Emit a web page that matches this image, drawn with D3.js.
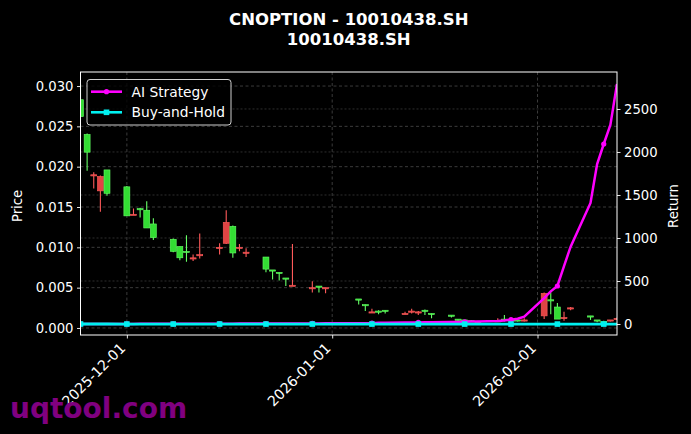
<!DOCTYPE html>
<html><head><meta charset="utf-8">
<script src="https://cdn.jsdelivr.net/npm/d3@7/dist/d3.min.js"></script>
<style>html,body{margin:0;padding:0;background:#000;}svg{display:block;}</style>
</head><body>
<script>
const dates = ["2025-11-24","2025-11-25","2025-11-26","2025-11-27","2025-11-28",
"2025-12-01","2025-12-02","2025-12-03","2025-12-04","2025-12-05",
"2025-12-08","2025-12-09","2025-12-10","2025-12-11","2025-12-12",
"2025-12-15","2025-12-16","2025-12-17","2025-12-18","2025-12-19",
"2025-12-22","2025-12-23","2025-12-24","2025-12-25","2025-12-26",
"2025-12-29","2025-12-30","2025-12-31","2026-01-05","2026-01-06",
"2026-01-07","2026-01-08","2026-01-09","2026-01-12","2026-01-13",
"2026-01-14","2026-01-15","2026-01-16","2026-01-19","2026-01-20",
"2026-01-21","2026-01-22","2026-01-23","2026-01-26","2026-01-27",
"2026-01-28","2026-01-29","2026-01-30","2026-02-02","2026-02-03",
"2026-02-04","2026-02-05","2026-02-06","2026-02-09","2026-02-10",
"2026-02-11","2026-02-12","2026-02-13"];
const open  = [0.0283,0.0240,0.0189,0.0170,0.0196, 0.0175,0.0140,0.0148,0.0146,0.0129,
 0.0110,0.0101,0.0095,0.0086,0.0090, 0.0099,0.0105,0.0126,0.0099,0.0093,
 0.0088,0.0072,0.0069,0.0062,0.0052, 0.0049,0.0052,0.0049,0.0036,0.0029,
 0.0019,0.0021,0.0022,0.0017,0.0020, 0.0019,0.0022,0.0018,0.0016,0.0011,
 0.0010,0.0009,0.0008,0.0008,0.0011, 0.0010,0.0010,0.0009,0.0015,0.0035,
 0.0026,0.0012,0.0024,0.0015,0.0010, 0.0008,0.0009,0.0011];
const high  = [0.0303,0.0241,0.0193,0.0189,0.0196, 0.0176,0.0148,0.0149,0.0157,0.0136,
 0.0111,0.0101,0.0115,0.0091,0.0117, 0.0105,0.0146,0.0127,0.0104,0.0099,
 0.0088,0.0072,0.0069,0.0062,0.0104, 0.0058,0.0052,0.0050,0.0036,0.0029,
 0.0024,0.0022,0.0022,0.0020,0.0024, 0.0021,0.0023,0.0018,0.0016,0.0011,
 0.0010,0.0010,0.0009,0.0012,0.0016, 0.0011,0.0011,0.0012,0.0044,0.0044,
 0.0031,0.0020,0.0026,0.0015,0.0010, 0.0009,0.0010,0.0013];
const low   = [0.0261,0.0195,0.0173,0.0144,0.0164, 0.0139,0.0140,0.0137,0.0124,0.0109,
 0.0094,0.0084,0.0082,0.0083,0.0086, 0.0091,0.0104,0.0087,0.0095,0.0088,
 0.0069,0.0060,0.0059,0.0052,0.0052, 0.0044,0.0044,0.0043,0.0029,0.0021,
 0.0019,0.0017,0.0018,0.0017,0.0018, 0.0016,0.0016,0.0012,0.0013,0.0009,
 0.0008,0.0008,0.0007,0.0008,0.0008, 0.0008,0.0008,0.0008,0.0011,0.0017,
 0.0011,0.0009,0.0022,0.0010,0.0007, 0.0006,0.0008,0.0010];
const close = [0.0262,0.0218,0.0190,0.0188,0.0167, 0.0139,0.0141,0.0147,0.0124,0.0112,
 0.0095,0.0087,0.0094,0.0087,0.0091, 0.0100,0.0131,0.0093,0.0100,0.0094,
 0.0073,0.0071,0.0068,0.0061,0.0053, 0.0050,0.0051,0.0050,0.0035,0.0028,
 0.0020,0.0020,0.0021,0.0018,0.0021, 0.0020,0.0021,0.0017,0.0015,0.0010,
 0.0009,0.0008,0.0008,0.0009,0.0010, 0.0009,0.0009,0.0010,0.0043,0.0034,
 0.0011,0.0013,0.0025,0.0014,0.0009, 0.0007,0.0010,0.0012];
const aiStrategy = [0,0,0,1,1, 1,1,2,2,2, 2,3,3,3,3, 4,4,4,5,5,
 5,6,6,6,7, 7,7,8,8,9, 10,13,14,16,17, 18,19,20,22,24,
 26,28,30,34,40, 50,62,85,300,380, 442,674,899,1407,1860, 2093,2314,2790];
const buyHold = [0,-0.17,-0.27,-0.28,-0.36, -0.47,-0.46,-0.44,-0.53,-0.57,
 -0.64,-0.67,-0.64,-0.67,-0.65, -0.62,-0.50,-0.65,-0.62,-0.64,
 -0.72,-0.73,-0.74,-0.77,-0.80, -0.81,-0.81,-0.81,-0.87,-0.89,
 -0.92,-0.92,-0.92,-0.93,-0.92, -0.92,-0.92,-0.94,-0.94,-0.96,
 -0.97,-0.97,-0.97,-0.97,-0.96, -0.97,-0.97,-0.96,-0.84,-0.87,
 -0.96,-0.95,-0.90,-0.95,-0.97, -0.97,-0.96,-0.95];
const priceTicks = [0.000,0.005,0.010,0.015,0.020,0.025,0.030];
const returnTicks = [0,500,1000,1500,2000,2500];
const dateTicks = ["2025-12-01","2026-01-01","2026-02-01"];
const titleLines = ["CNOPTION - 10010438.SH","10010438.SH"];
const seriesNames = ["AI Strategy","Buy-and-Hold"];

const W=691,H=434;
const L=80.5,R=617,T=72,B=335;
const parse=d3.utcParse("%Y-%m-%d");
const data=dates.map((d,i)=>({date:parse(d),o:open[i],h:high[i],l:low[i],c:close[i],ai:aiStrategy[i],bh:buyHold[i],i}));

const x=d3.scaleUtc().domain([parse(dates[0]),parse(dates[dates.length-1])]).range([L,R]);
const yP=d3.scaleLinear().domain([-0.00087,0.03174]).range([B,T]);
const yR=d3.scaleLinear().domain([-128,2930]).range([B,T]);

const svg=d3.select("body").append("svg").attr("width",W).attr("height",H)
  .style("background","#000").style("font-family","'DejaVu Sans', sans-serif");
svg.append("rect").attr("width",W).attr("height",H).attr("fill","#000");

svg.append("defs").append("clipPath").attr("id","clip")
  .append("rect").attr("x",L).attr("y",T).attr("width",R-L).attr("height",B-T);

// grid
const grid=svg.append("g").attr("clip-path","url(#clip)");
grid.selectAll(".gx").data(dateTicks).join("line")
  .attr("x1",d=>x(parse(d))).attr("x2",d=>x(parse(d))).attr("y1",T).attr("y2",B)
  .attr("stroke","#4a4a4a").attr("stroke-width",0.8).attr("stroke-dasharray","3,2.5");
grid.selectAll(".gp").data(priceTicks).join("line")
  .attr("x1",L).attr("x2",R).attr("y1",d=>yP(d)).attr("y2",d=>yP(d))
  .attr("stroke","#4a4a4a").attr("stroke-width",0.8).attr("stroke-dasharray","3,2.5");
grid.selectAll(".gr").data(returnTicks).join("line")
  .attr("x1",L).attr("x2",R).attr("y1",d=>yR(d)).attr("y2",d=>yR(d))
  .attr("stroke","#3a3a3a").attr("stroke-width",0.8).attr("stroke-dasharray","2,2");

// candles
const day=x(parse("2025-11-25"))-x(parse("2025-11-24"));
const bw=day*0.9;
const up="#e04444", upEdge="#ff5a5a", dn="#33dd33", dnEdge="#66ff66";
const cg=svg.append("g").attr("clip-path","url(#clip)");
const cd=cg.selectAll("g.c").data(data).join("g");
cd.append("line").attr("x1",d=>x(d.date)).attr("x2",d=>x(d.date))
  .attr("y1",d=>yP(d.h)).attr("y2",d=>yP(d.l))
  .attr("stroke",d=>d.c>=d.o?upEdge:dnEdge).attr("stroke-width",1.1);
cd.append("rect").attr("x",d=>x(d.date)-bw/2).attr("width",bw)
  .attr("y",d=>Math.min(yP(d.o),yP(d.c)))
  .attr("height",d=>Math.max(1.2,Math.abs(yP(d.o)-yP(d.c))))
  .attr("fill",d=>d.c>=d.o?up:dn).attr("stroke",d=>d.c>=d.o?upEdge:dnEdge).attr("stroke-width",0.6);

// lines
const lg=svg.append("g").attr("clip-path","url(#clip)");
const lineAI=d3.line().x(d=>x(d.date)).y(d=>yR(d.ai));
const lineBH=d3.line().x(d=>x(d.date)).y(d=>yR(d.bh));
const mag="#ff00ff", cyan="#00f0f0";
lg.append("path").datum(data).attr("d",lineAI).attr("fill","none").attr("stroke",mag).attr("stroke-width",2.5);
lg.selectAll(".ma").data(data.filter(d=>d.i%5===0)).join("circle")
  .attr("cx",d=>x(d.date)).attr("cy",d=>yR(d.ai)).attr("r",2.6).attr("fill",mag);
lg.append("path").datum(data).attr("d",lineBH).attr("fill","none").attr("stroke",cyan).attr("stroke-width",2.8);
lg.selectAll(".mb").data(data.filter(d=>d.i%5===0)).join("rect")
  .attr("x",d=>x(d.date)-2.8).attr("y",d=>yR(d.bh)-2.8).attr("width",5.6).attr("height",5.6).attr("fill",cyan);

// frame
svg.append("rect").attr("x",L).attr("y",T).attr("width",R-L).attr("height",B-T)
  .attr("fill","none").attr("stroke","#fff").attr("stroke-width",1);

// axes
const fs=13.2;
const axL=svg.append("g").attr("transform",`translate(${L},0)`)
  .call(d3.axisLeft(yP).tickValues(priceTicks).tickFormat(d3.format(".3f")).tickSize(3.5).tickPadding(3.5));
const axR=svg.append("g").attr("transform",`translate(${R},0)`)
  .call(d3.axisRight(yR).tickValues(returnTicks).tickFormat(d3.format("d")).tickSize(3.5).tickPadding(3.5));
const axB=svg.append("g").attr("transform",`translate(0,${B})`)
  .call(d3.axisBottom(x).tickValues(dateTicks.map(parse)).tickFormat(d3.utcFormat("%Y-%m-%d")).tickSize(3.5).tickPadding(3.5));
[axL,axR,axB].forEach(a=>{
  a.select(".domain").remove();
  a.selectAll(".tick line").attr("stroke","#fff").attr("stroke-width",0.9);
  a.selectAll(".tick text").attr("fill","#fff").style("font-size",fs+"px").style("font-family","'DejaVu Sans', sans-serif");
});
axB.selectAll(".tick text").style("font-size","14.2px").attr("text-anchor","end").attr("dy",null).attr("y",0)
  .attr("transform","translate(-1,14) rotate(-45)");

svg.append("text").attr("transform",`translate(22,206) rotate(-90)`).attr("text-anchor","middle")
  .attr("fill","#fff").style("font-size",fs+"px").text("Price");
svg.append("text").attr("transform",`translate(678,206) rotate(-90)`).attr("text-anchor","middle")
  .attr("fill","#fff").style("font-size",fs+"px").text("Return");

// title
svg.selectAll(".title").data(titleLines).join("text")
  .attr("x",(L+R)/2).attr("y",(d,i)=>24.5+i*20.5).attr("text-anchor","middle")
  .attr("fill","#fff").style("font-size","16.5px").style("font-weight","bold").text(d=>d);

// legend
const leg=svg.append("g");
leg.append("rect").attr("x",87).attr("y",79.5).attr("width",144).attr("height",45.5).attr("rx",3)
  .attr("fill","#000").attr("fill-opacity",0.8).attr("stroke","#cfcfcf").attr("stroke-width",1);
const cols=[mag,cyan];
seriesNames.forEach((n,i)=>{
  const yy=91.7+i*20.6;
  leg.append("line").attr("x1",91).attr("x2",122).attr("y1",yy).attr("y2",yy).attr("stroke",cols[i]).attr("stroke-width",2.6);
  if(i===0) leg.append("circle").attr("cx",106.5).attr("cy",yy).attr("r",2.6).attr("fill",cols[i]);
  else leg.append("rect").attr("x",103.7).attr("y",yy-2.8).attr("width",5.6).attr("height",5.6).attr("fill",cols[i]);
  leg.append("text").attr("x",131.5).attr("y",yy+4.8).attr("fill","#fff").style("font-size","13.8px").text(n);
});

// watermark
svg.append("text").attr("x",10).attr("y",418).attr("fill","#800080")
  .style("font-size","28px").style("font-weight","bold").text("uqtool.com");
</script>
</body></html>
